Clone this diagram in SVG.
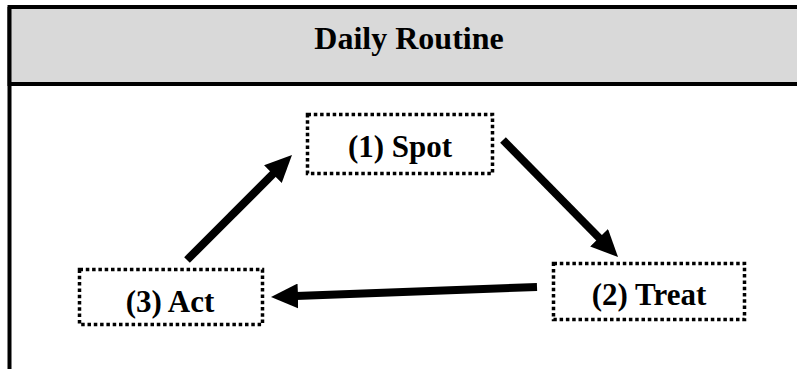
<svg xmlns="http://www.w3.org/2000/svg" width="797" height="369" viewBox="0 0 797 369">
  <style>
    .frame { fill: none; stroke: #000; stroke-width: 4; }
    .header { fill: #d9d9d9; stroke: #000; stroke-width: 4; }
    .title { font-family: "Liberation Serif", "Times New Roman", serif; font-weight: bold; font-size: 32px; fill: #000; text-anchor: middle; }
    .box { fill: #fff; stroke: #000; stroke-width: 3.5; stroke-dasharray: 3.5 2.8; }
    .label { font-family: "Liberation Serif", "Times New Roman", serif; font-weight: bold; font-size: 31px; fill: #000; text-anchor: middle; }
    .arrow { fill: none; stroke: #000; stroke-width: 8; marker-end: url(#head); }
  </style>
  <defs>
    <!-- solid triangular arrowhead shared by all connectors -->
    <marker id="head" viewBox="0 0 27 25" markerWidth="27" markerHeight="25" refX="2" refY="12.5" orient="auto" markerUnits="userSpaceOnUse">
      <path d="M0,0 L27,12.5 L0,25 Z" fill="#000"/>
    </marker>
  </defs>

  <!-- outer frame: left rule running down the page -->
  <line x1="9.5" y1="7" x2="9.5" y2="369" class="frame"/>

  <!-- header band -->
  <g id="header">
    <rect x="9.5" y="7" width="800" height="77" class="header"/>
    <text x="409" y="49" class="title">Daily Routine</text>
  </g>

  <g id="spot">
    <rect x="307.5" y="114.5" width="185" height="59" class="box"/>
    <text x="400" y="157" class="label">(1) Spot</text>
  </g>

  <g id="treat">
    <rect x="553.5" y="263.5" width="191" height="56" class="box"/>
    <text x="649" y="305" class="label">(2) Treat</text>
  </g>

  <g id="act">
    <rect x="79.5" y="269.5" width="183" height="55" class="box"/>
    <text x="170" y="312" class="label">(3) Act</text>
  </g>

  <g id="connectors">
    <line x1="503" y1="140" x2="600.5" y2="239.2" class="arrow"/>
    <line x1="537" y1="287" x2="296" y2="296.1" class="arrow"/>
    <line x1="187" y1="260" x2="274.3" y2="172.7" class="arrow"/>
  </g>
</svg>
